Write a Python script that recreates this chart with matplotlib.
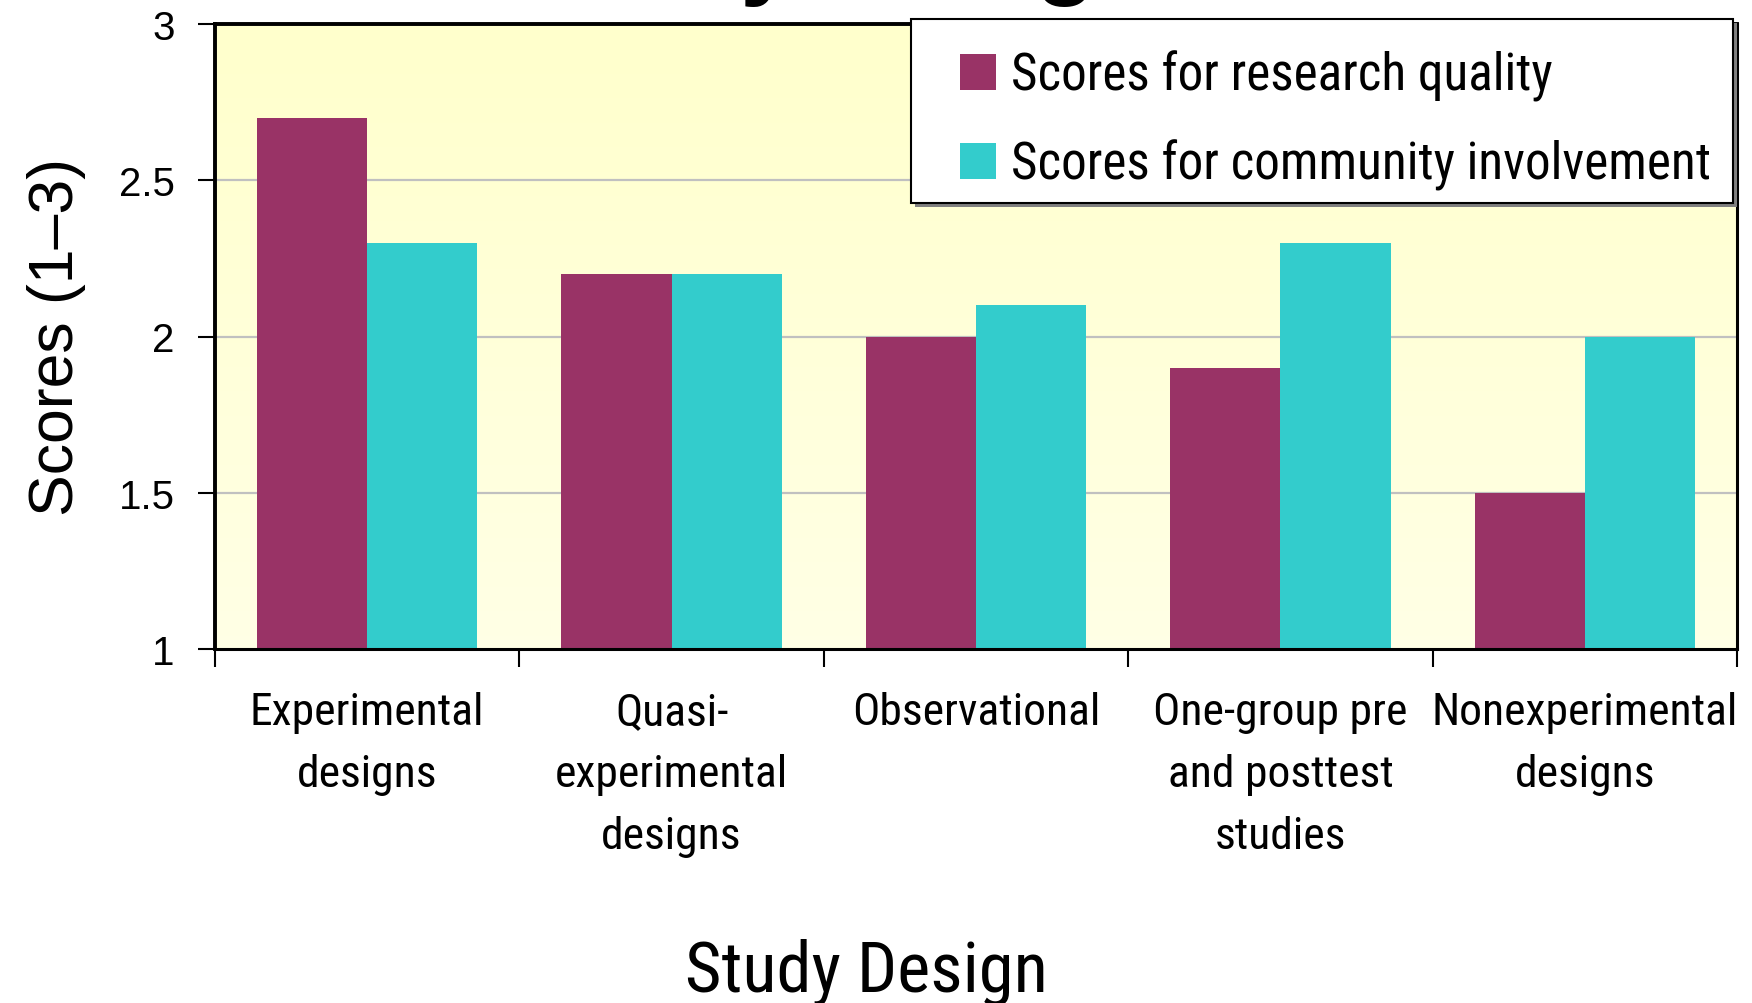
import os
import re
import matplotlib
matplotlib.use("Agg")
import matplotlib.pyplot as plt
import numpy as np
from matplotlib import font_manager
from matplotlib.font_manager import FontProperties
from matplotlib.patches import Rectangle, Patch

# ---- data ----
categories = ["Experimental\ndesigns", "Quasi-\nexperimental\ndesigns", "Observational",
              "One-group pre\nand posttest\nstudies", "Nonexperimental\ndesigns"]
research_quality = [2.7, 2.2, 2.0, 1.9, 1.5]
community_involvement = [2.3, 2.2, 2.1, 2.3, 2.0]
series_labels = ["Scores for research quality", "Scores for community involvement"]
y_ticks = [1, 1.5, 2, 2.5, 3]
y_tick_labels = ["1", "1.5", "2", "2.5", "3"]
y_label = "Scores (1\u20133)"
x_label = "Study Design"
title_text = "Study Design"

# ---- pick a narrow / condensed font file if available ----
files = [f.fname for f in font_manager.fontManager.ttflist]
prefs = [r"LiberationSansNarrow-Regular", r"RobotoCondensed-Regular", r"Roboto_Condensed-Regular",
         r"NotoSans-Condensed\.", r"NotoSans-CondensedRegular", r"OpenSans-CondensedRegular",
         r"OpenSans_Condensed-Regular", r"DejaVuSansCondensed\."]
narrow_file = None
for p in prefs:
    for fn in files:
        if re.search(p, os.path.basename(fn)):
            narrow_file = fn
            break
    if narrow_file:
        break
if narrow_file is None:
    for fn in files:
        b = os.path.basename(fn)
        if ("Narrow" in b or "Condensed" in b) and not re.search("Bold|Italic|Oblique|Light|Thin|Black|Medium|Semi|Extra", b):
            narrow_file = fn
            break


def narrow_prop(size):
    if narrow_file:
        return FontProperties(fname=narrow_file, size=size)
    return FontProperties(family="Liberation Sans", size=size)


REG = "Liberation Sans"
C1 = "#993366"
C2 = "#33CCCC"

W, H, DPI = 1752, 1004, 100
fig = plt.figure(figsize=(W / DPI, H / DPI), dpi=DPI)
renderer = fig.canvas.get_renderer()


def fit(text, target_px):
    w, h, d = renderer.get_text_width_height_descent(text, narrow_prop(20), ismath=False)
    return 20 * target_px / w


cat_size = fit("Experimental", 233)
leg_size = fit("Scores for research quality", 540)
xl_size = fit("Study Design", 362)

L, R, T, B = 215, 1737, 25, 650
ax = fig.add_axes([L / W, 1 - B / H, (R - L) / W, (B - T) / H])

x = np.arange(len(categories))
bw = 0.362
ax.bar(x - bw / 2, [v - 1 for v in research_quality], bw, bottom=1, color=C1, zorder=3)
ax.bar(x + bw / 2, [v - 1 for v in community_involvement], bw, bottom=1, color=C2, zorder=3)

ax.set_xlim(-0.5, len(categories) - 0.5)
ax.set_ylim(1, 3)

# gradient background
grad = np.linspace(0, 1, 256)
top = np.array([1.0, 1.0, 0.80])
bot = np.array([1.0, 1.0, 0.90])
img = top[None, None, :] * (1 - grad[:, None, None]) + bot[None, None, :] * grad[:, None, None]
ax.imshow(img, extent=(-0.5, len(categories) - 0.5, 1, 3), aspect="auto", zorder=0,
          origin="upper")

ax.set_yticks(y_ticks)
ax.set_yticklabels(y_tick_labels, fontfamily=REG, fontsize=29)
for yv in y_ticks[1:-1]:
    ax.axhline(yv, color="#C0C0C0", lw=1.6, zorder=1)
ax.tick_params(axis="y", direction="out", length=12, width=1.5, pad=17, color="black")

ax.set_xticks(x)
ax.set_xticklabels(categories)
for lab in ax.get_xticklabels():
    lab.set_fontproperties(narrow_prop(cat_size))
    lab.set_linespacing(1.40 * 62.6 / (cat_size * DPI / 72 * 1.2))
ax.tick_params(axis="x", which="major", length=0, pad=30)
ax.set_xticks(np.arange(-0.5, len(categories)), minor=True)
ax.tick_params(axis="x", which="minor", direction="out", length=13, width=1.5, color="black")

for s in ["left", "top"]:
    ax.spines[s].set_linewidth(2.8)
for s in ["right", "bottom"]:
    ax.spines[s].set_linewidth(2.2)
for s in ax.spines.values():
    s.set_zorder(5)

ax.set_ylabel(y_label, fontfamily=REG, fontsize=45)
ax.yaxis.set_label_coords(-(L - 86) / (R - L), 0.5)

fig.text(866 / W, 1 - 992 / H, x_label, ha="center", va="baseline",
         fontproperties=narrow_prop(xl_size))

# title, cut off at the top edge as in the reference
fig.text(838 / W, 1 + 14 / H, title_text, ha="center", va="baseline",
         fontfamily=REG, fontweight="bold", fontsize=72)

# legend box with shadow
lx0, lx1, ly0, ly1 = 911, 1733, 20, 204
sh = Rectangle(((lx0 + 4) / W, 1 - (ly1 + 4) / H), (lx1 - lx0) / W, (ly1 - ly0) / H,
               transform=fig.transFigure, facecolor="#808080", edgecolor="none", zorder=8)
box = Rectangle((lx0 / W, 1 - ly1 / H), (lx1 - lx0) / W, (ly1 - ly0) / H,
                transform=fig.transFigure, facecolor="white", edgecolor="black", lw=1.5, zorder=9)
fig.patches.extend([sh, box])
handles = [Patch(facecolor=C1, edgecolor="none"), Patch(facecolor=C2, edgecolor="none")]
hl = 36 / (leg_size * DPI / 72)
leg = fig.legend(handles, series_labels, loc="upper left",
                 bbox_to_anchor=(960 / W, 1 - 51 / H), frameon=False,
                 prop=narrow_prop(leg_size), handlelength=hl, handleheight=hl,
                 handletextpad=0.3, labelspacing=0.73, borderpad=0, borderaxespad=0)
leg.set_zorder(10)

fig.savefig("out.png", dpi=DPI)
